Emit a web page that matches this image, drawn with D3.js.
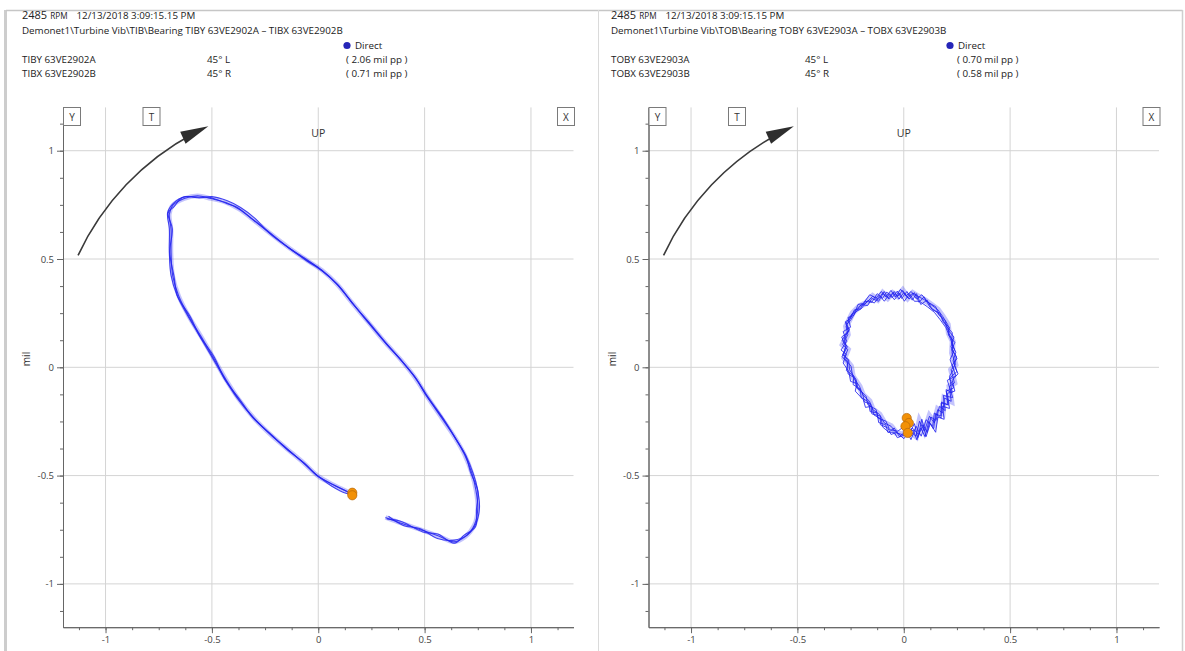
<!DOCTYPE html>
<html>
<head>
<meta charset="utf-8">
<script src="https://cdn.jsdelivr.net/npm/d3@7"></script>
<style>
  body { margin: 0; background: #fff; }
  svg { display: block; font-family: "Open Sans", sans-serif; }
</style>
</head>
<body>
<svg id="chart" width="1185" height="651"></svg>
<script>
// tick values (mil)
var majorTicks = [-1, -0.5, 0, 0.5, 1];
var minorTicks = [-1.125, -1, -0.875, -0.75, -0.625, -0.5, -0.375, -0.25, -0.125, 0,
                  0.125, 0.25, 0.375, 0.5, 0.625, 0.75, 0.875, 1, 1.125];

// header texts
var rpm = "2485";
var stamp = "12/13/2018 3:09:15.15 PM";
var tibTitle = "Demonet1\\Turbine Vib\\TIB\\Bearing TIBY 63VE2902A \u2013 TIBX 63VE2902B";
var tobTitle = "Demonet1\\Turbine Vib\\TOB\\Bearing TOBY 63VE2903A \u2013 TOBX 63VE2903B";
var tibProbes = [["TIBY 63VE2902A", "45\u00b0 L", "( 2.06 mil pp )"],
                 ["TIBX 63VE2902B", "45\u00b0 R", "( 0.71 mil pp )"]];
var tobProbes = [["TOBY 63VE2903A", "45\u00b0 L", "( 0.70 mil pp )"],
                 ["TOBX 63VE2903B", "45\u00b0 R", "( 0.58 mil pp )"]];

// TIB orbit, revolutions [x, y] in mil
var tibOrbitA = [[0.316,-0.693],[0.394,-0.721],[0.488,-0.752],[0.566,-0.779],[0.636,-0.806],
  [0.691,-0.782],[0.734,-0.728],[0.750,-0.651],[0.741,-0.566],[0.722,-0.489],[0.688,-0.404],
  [0.644,-0.327],[0.581,-0.235],[0.511,-0.134],[0.456,-0.049],[0.394,0.028],[0.316,0.113],
  [0.238,0.205],[0.159,0.298],[0.089,0.383],[0.016,0.449],[-0.059,0.498],[-0.138,0.552],
  [-0.231,0.622],[-0.309,0.684],[-0.372,0.730],[-0.434,0.761],[-0.505,0.779],[-0.567,0.792],
  [-0.630,0.779],[-0.684,0.748],[-0.700,0.707],[-0.692,0.637],[-0.692,0.529],[-0.684,0.421],
  [-0.656,0.329],[-0.609,0.236],[-0.552,0.144],[-0.497,0.051],[-0.434,-0.057],[-0.372,-0.150],
  [-0.302,-0.235],[-0.223,-0.312],[-0.145,-0.378],[-0.067,-0.443],[0.003,-0.505],[0.073,-0.543],
  [0.136,-0.574],[0.159,-0.586]];
var tibOrbitB = [[0.330,-0.688],[0.400,-0.730],[0.480,-0.745],[0.560,-0.790],[0.640,-0.798],
  [0.700,-0.775],[0.742,-0.720],[0.758,-0.645],[0.748,-0.560],[0.730,-0.495],[0.695,-0.410],
  [0.650,-0.335],[0.590,-0.240],[0.518,-0.140],[0.462,-0.055],[0.400,0.020],[0.322,0.108],
  [0.245,0.200],[0.165,0.290],[0.095,0.378],[0.022,0.442],[-0.052,0.490],[-0.130,0.545],
  [-0.225,0.615],[-0.300,0.690],[-0.365,0.738],[-0.430,0.770],[-0.500,0.788],[-0.560,0.782],
  [-0.625,0.788],[-0.680,0.758],[-0.708,0.715],[-0.700,0.640],[-0.700,0.530],[-0.692,0.425],
  [-0.664,0.332],[-0.615,0.240],[-0.560,0.148],[-0.504,0.055],[-0.442,-0.050],[-0.380,-0.144],
  [-0.310,-0.228],[-0.230,-0.305],[-0.152,-0.372],[-0.074,-0.438],[-0.004,-0.500],[0.066,-0.550],
  [0.130,-0.582],[0.158,-0.588]];
var tibOrbitC = [[0.322,-0.700],[0.390,-0.712],[0.492,-0.760],[0.562,-0.770],[0.640,-0.812],
  [0.686,-0.775],[0.740,-0.735],[0.744,-0.655],[0.750,-0.570],[0.716,-0.485],[0.694,-0.410],
  [0.640,-0.320],[0.588,-0.240],[0.506,-0.128],[0.462,-0.055],[0.388,0.034],[0.322,0.106],
  [0.232,0.210],[0.165,0.292],[0.084,0.388],[0.022,0.443],[-0.065,0.505],[-0.132,0.546],
  [-0.236,0.628],[-0.303,0.678],[-0.378,0.737],[-0.428,0.755],[-0.512,0.785],[-0.560,0.785],
  [-0.636,0.785],[-0.678,0.742],[-0.706,0.712],[-0.686,0.640],[-0.698,0.530],[-0.678,0.420],
  [-0.662,0.330],[-0.602,0.234],[-0.558,0.146],[-0.490,0.049],[-0.440,-0.055],[-0.366,-0.152],
  [-0.308,-0.232],[-0.216,-0.315],[-0.152,-0.375],[-0.060,-0.447],[-0.004,-0.502],[0.080,-0.547],
  [0.130,-0.571],[0.160,-0.584]];
var tibMarkers = [[0.160,-0.579],[0.160,-0.591]];

// TOB orbit, noisy revolutions
var tobOrbitA = [[0.019,-0.288],[0.058,-0.318],[0.074,-0.249],[0.097,-0.295],[0.121,-0.226],
  [0.144,-0.257],[0.160,-0.195],[0.183,-0.211],[0.191,-0.142],[0.223,-0.157],[0.215,-0.088],
  [0.238,-0.072],[0.223,-0.011],[0.243,0.012],[0.227,0.066],[0.230,0.120],[0.212,0.158],
  [0.207,0.197],[0.183,0.235],[0.160,0.266],[0.129,0.289],[0.097,0.312],[0.066,0.328],
  [0.042,0.343],[0.019,0.320],[-0.005,0.355],[-0.028,0.328],[-0.052,0.343],[-0.075,0.320],
  [-0.099,0.343],[-0.122,0.312],[-0.146,0.328],[-0.177,0.297],[-0.208,0.282],[-0.240,0.251],
  [-0.255,0.220],[-0.271,0.189],[-0.263,0.151],[-0.287,0.105],[-0.263,0.082],[-0.279,0.043],
  [-0.248,0.005],[-0.240,-0.042],[-0.208,-0.088],[-0.193,-0.126],[-0.161,-0.157],[-0.146,-0.195],
  [-0.114,-0.218],[-0.091,-0.257],[-0.060,-0.272],[-0.035,-0.303],[-0.005,-0.311],[0.019,-0.288]];
var tobOrbitB = [[0.003,-0.272],[0.034,-0.334],[0.058,-0.272],[0.082,-0.318],[0.105,-0.242],
  [0.136,-0.272],[0.144,-0.211],[0.176,-0.234],[0.176,-0.165],[0.207,-0.172],[0.199,-0.103],
  [0.227,-0.118],[0.215,-0.042],[0.234,-0.011],[0.218,0.035],[0.238,0.082],[0.218,0.135],
  [0.199,0.182],[0.171,0.220],[0.144,0.254],[0.113,0.278],[0.074,0.305],[0.050,0.305],
  [0.027,0.340],[0.003,0.305],[-0.020,0.343],[-0.044,0.312],[-0.067,0.340],[-0.091,0.305],
  [-0.114,0.331],[-0.138,0.297],[-0.169,0.309],[-0.201,0.269],[-0.224,0.258],[-0.248,0.220],
  [-0.268,0.197],[-0.255,0.174],[-0.279,0.135],[-0.271,0.097],[-0.287,0.058],[-0.259,0.035],
  [-0.255,-0.011],[-0.224,-0.057],[-0.216,-0.095],[-0.177,-0.134],[-0.169,-0.172],[-0.130,-0.195],
  [-0.122,-0.234],[-0.083,-0.249],[-0.067,-0.288],[-0.028,-0.295],[0.003,-0.272]];
var tobOrbitC = [[0.030,-0.300],[0.050,-0.260],[0.066,-0.325],[0.090,-0.265],[0.110,-0.300],
  [0.128,-0.230],[0.152,-0.245],[0.168,-0.180],[0.195,-0.200],[0.186,-0.130],[0.230,-0.140],
  [0.205,-0.060],[0.245,-0.040],[0.228,0.010],[0.250,0.040],[0.222,0.095],[0.236,0.140],
  [0.205,0.175],[0.195,0.215],[0.165,0.245],[0.150,0.280],[0.115,0.300],[0.085,0.335],
  [0.060,0.315],[0.035,0.350],[0.010,0.330],[-0.015,0.360],[-0.040,0.325],[-0.060,0.355],
  [-0.085,0.325],[-0.105,0.350],[-0.130,0.320],[-0.160,0.335],[-0.190,0.295],[-0.215,0.290],
  [-0.235,0.240],[-0.262,0.230],[-0.250,0.185],[-0.285,0.165],[-0.268,0.120],[-0.295,0.080],
  [-0.270,0.060],[-0.285,0.020],[-0.258,-0.020],[-0.250,-0.065],[-0.220,-0.075],[-0.228,-0.110],
  [-0.190,-0.150],[-0.180,-0.185],[-0.150,-0.180],[-0.140,-0.220],[-0.105,-0.240],[-0.100,-0.275],
  [-0.070,-0.300],[-0.045,-0.280],[-0.020,-0.320],[0.010,-0.295],[0.030,-0.300]];
var tobOrbitD = [[0.010,-0.310],[0.045,-0.290],[0.062,-0.335],[0.080,-0.280],[0.100,-0.320],
  [0.118,-0.250],[0.140,-0.285],[0.150,-0.215],[0.175,-0.225],[0.178,-0.160],[0.210,-0.175],
  [0.200,-0.110],[0.235,-0.095],[0.215,-0.050],[0.250,-0.020],[0.232,0.030],[0.245,0.070],
  [0.225,0.110],[0.228,0.160],[0.200,0.190],[0.180,0.228],[0.150,0.260],[0.125,0.275],
  [0.095,0.325],[0.072,0.300],[0.050,0.345],[0.025,0.315],[0.000,0.345],[-0.022,0.315],
  [-0.045,0.350],[-0.070,0.315],[-0.092,0.350],[-0.118,0.305],[-0.150,0.318],[-0.170,0.285],
  [-0.200,0.290],[-0.225,0.255],[-0.245,0.245],[-0.270,0.205],[-0.258,0.165],[-0.292,0.140],
  [-0.272,0.100],[-0.282,0.060],[-0.262,0.030],[-0.270,-0.015],[-0.235,-0.040],[-0.238,-0.080],
  [-0.205,-0.100],[-0.200,-0.140],[-0.165,-0.160],[-0.158,-0.205],[-0.125,-0.210],[-0.118,-0.255],
  [-0.085,-0.265],[-0.075,-0.300],[-0.045,-0.300],[-0.030,-0.325],[0.010,-0.310]];
var tobOrbitE = [[0.040,-0.280],[0.070,-0.310],[0.085,-0.240],[0.105,-0.320],[0.125,-0.260],
  [0.150,-0.300],[0.160,-0.230],[0.190,-0.240],[0.182,-0.180],[0.215,-0.190],[0.205,-0.120],
  [0.240,-0.110],[0.228,-0.060],[0.255,-0.030],[0.238,0.010],[0.248,0.050],[0.225,0.080],
  [0.240,0.115],[0.210,0.150],[0.215,0.185],[0.185,0.210],[0.170,0.250],[0.135,0.265],
  [0.110,0.310],[0.080,0.290],[0.060,0.340],[0.040,0.310],[0.015,0.350],[-0.010,0.318],
  [-0.030,0.352],[-0.055,0.322],[-0.080,0.348],[-0.100,0.318],[-0.125,0.340],[-0.150,0.300],
  [-0.182,0.305],[-0.205,0.270],[-0.232,0.265],[-0.250,0.225],[-0.275,0.210],[-0.262,0.170],
  [-0.290,0.125],[-0.265,0.095],[-0.290,0.050],[-0.265,0.020],[-0.262,-0.030],[-0.230,-0.050],
  [-0.222,-0.095],[-0.195,-0.115],[-0.185,-0.160],[-0.155,-0.170],[-0.150,-0.215],[-0.110,-0.225],
  [-0.110,-0.265],[-0.075,-0.280],[-0.060,-0.310],[-0.030,-0.300],[0.000,-0.330],[0.040,-0.280]];
var tobMarkers = [[0.014,-0.234],[0.024,-0.257],[0.008,-0.272],[0.019,-0.303]];

var svg = d3.select("#chart");
var fmt = function(d) { return String(d); };

// outer frame
svg.append("rect").attr("x", 4).attr("y", 10).attr("width", 3).attr("height", 641).attr("fill", "#cdcdcd");
svg.append("line").attr("x1", 6).attr("x2", 1182.5).attr("y1", 10.5).attr("y2", 10.5)
  .attr("stroke", "#c6c6c6").attr("stroke-width", 1.5);
svg.append("line").attr("x1", 1182.5).attr("x2", 1182.5).attr("y1", 10).attr("y2", 651)
  .attr("stroke", "#cfcfcf").attr("stroke-width", 1.5);
svg.append("line").attr("x1", 598.5).attr("x2", 598.5).attr("y1", 10).attr("y2", 651)
  .attr("stroke", "#dadada");

function drawPanel(p) {
  var g = svg.append("g");
  var x = d3.scaleLinear().domain([-1.2, 1.2]).range([p.left, p.left + 510.5]);
  var y = d3.scaleLinear().domain([-1.2, 1.2]).range([627.2, 107.4]);

  // header
  var hd = g.append("g").attr("font-size", 9.8).attr("fill", "#222");
  var l1 = hd.append("text").attr("x", p.tx).attr("y", 19);
  l1.append("tspan").attr("font-size", 11).text(rpm);
  l1.append("tspan").attr("font-size", 8.2).attr("dx", 3).text("RPM");
  l1.append("tspan").attr("dx", 9).text(stamp);
  hd.append("text").attr("x", p.tx).attr("y", 34).text(p.title);
  hd.append("circle").attr("cx", p.dotX).attr("cy", 45.5).attr("r", 3.6).attr("fill", "#2525b8");
  hd.append("text").attr("x", p.dotX + 8).attr("y", 49).text("Direct");
  p.probes.forEach(function(r, i) {
    var yy = 63 + i * 14;
    hd.append("text").attr("x", p.tx).attr("y", yy).text(r[0]);
    hd.append("text").attr("x", p.colB).attr("y", yy).text(r[1]);
    hd.append("text").attr("x", p.colC).attr("y", yy).text(r[2]);
  });

  // grid
  g.append("g").selectAll("line").data(majorTicks).enter().append("line")
    .attr("x1", function(d) { return x(d); }).attr("x2", function(d) { return x(d); })
    .attr("y1", y(1.2)).attr("y2", y(-1.2))
    .attr("stroke", "#d4d4d4");
  g.append("g").selectAll("line").data(majorTicks).enter().append("line")
    .attr("y1", function(d) { return y(d); }).attr("y2", function(d) { return y(d); })
    .attr("x1", x(-1.2)).attr("x2", x(1.2))
    .attr("stroke", "#d4d4d4");

  // axes
  function styleAxis(a) {
    a.selectAll("path, line").attr("stroke", "#666");
    a.selectAll("text").attr("fill", "#444").attr("font-size", 9.5).attr("font-family", "Open Sans, sans-serif");
  }
  g.append("g").attr("transform", "translate(" + x(-1.2) + ",0)")
    .call(d3.axisLeft(y).tickValues(minorTicks).tickSize(3).tickSizeOuter(0).tickFormat(""))
    .call(styleAxis);
  g.append("g").attr("transform", "translate(" + x(-1.2) + ",0)")
    .call(d3.axisLeft(y).tickValues(majorTicks).tickSize(6).tickSizeOuter(0).tickFormat(fmt))
    .call(styleAxis);
  g.append("g").attr("transform", "translate(0," + y(-1.2) + ")")
    .call(d3.axisBottom(x).tickValues(minorTicks).tickSize(3).tickSizeOuter(0).tickFormat(""))
    .call(styleAxis);
  g.append("g").attr("transform", "translate(0," + y(-1.2) + ")")
    .call(d3.axisBottom(x).tickValues(majorTicks).tickSize(6).tickSizeOuter(0).tickFormat(fmt))
    .call(styleAxis);

  g.append("text").attr("transform", "translate(" + (p.left - 33) + ",359) rotate(-90)")
    .attr("text-anchor", "middle").attr("font-size", 10).attr("fill", "#333").text("mil");
  g.append("text").attr("x", x(0)).attr("y", 137).attr("text-anchor", "middle")
    .attr("font-size", 10.5).attr("fill", "#333").text("UP");

  // probe boxes
  [["Y", p.left], ["T", p.left + 79.5], ["X", p.left + 494]].forEach(function(b) {
    g.append("rect").attr("x", b[1] + 0.5).attr("y", 107.5).attr("width", 17).attr("height", 18)
      .attr("fill", "#fff").attr("stroke", "#7a7a7a");
    g.append("text").attr("x", b[1] + 9).attr("y", 120.5).attr("text-anchor", "middle")
      .attr("font-size", 10).attr("fill", "#333").text(b[0]);
  });

  // rotation arrow (clockwise)
  var cx = x(0), cy = y(0), r = 265;
  var a0 = -155 * Math.PI / 180, a1 = -114.5 * Math.PI / 180;
  var arc = d3.path();
  arc.arc(cx, cy, r, a0, a1 - 0.06, false);
  g.append("path").attr("d", arc.toString()).attr("fill", "none")
    .attr("stroke", "#3a3a3a").attr("stroke-width", 1.6);
  var tipX = cx + r * Math.cos(a1), tipY = cy + r * Math.sin(a1);
  var dx = -Math.sin(a1), dy = Math.cos(a1);
  var hl = 28, hw = 6.5;
  var bx = tipX - dx * hl, by = tipY - dy * hl;
  g.append("path").attr("d", "M" + tipX + "," + tipY +
      "L" + (bx - dy * hw) + "," + (by + dx * hw) +
      "L" + (bx + dy * hw) + "," + (by - dx * hw) + "Z")
    .attr("fill", "#2e2e2e");

  // orbit traces
  var line = d3.line().x(function(d) { return x(d[0]); }).y(function(d) { return y(d[1]); })
    .curve(p.curve);
  var og = g.append("g").attr("fill", "none");
  og.append("path").attr("d", line(p.orbits[0])).attr("stroke", "#3c3cf5")
    .attr("stroke-width", p.under).attr("stroke-opacity", 0.3);
  p.orbits.forEach(function(o) {
    og.append("path").attr("d", line(o)).attr("stroke", "#2424ee")
      .attr("stroke-width", p.sw).attr("stroke-opacity", 0.85).attr("stroke-linejoin", "round");
  });

  // keyphasor markers
  g.append("g").selectAll("circle").data(p.markers).enter().append("circle")
    .attr("cx", function(d) { return x(d[0]); }).attr("cy", function(d) { return y(d[1]); })
    .attr("r", 4.6).attr("fill", "#f29107").attr("stroke", "#b8680a").attr("stroke-width", 0.7);
}

drawPanel({ left: 63, tx: 22, colB: 207, colC: 346, dotX: 347, title: tibTitle, probes: tibProbes,
  orbits: [tibOrbitA, tibOrbitB, tibOrbitC], markers: tibMarkers, curve: d3.curveCatmullRom.alpha(0.5),
  sw: 1.1, under: 4.5 });
drawPanel({ left: 648.5, tx: 611, colB: 805, colC: 957, dotX: 950, title: tobTitle, probes: tobProbes,
  orbits: [tobOrbitA, tobOrbitB, tobOrbitC, tobOrbitD, tobOrbitE], markers: tobMarkers, curve: d3.curveLinear,
  sw: 1, under: 6 });
</script>
</body>
</html>
